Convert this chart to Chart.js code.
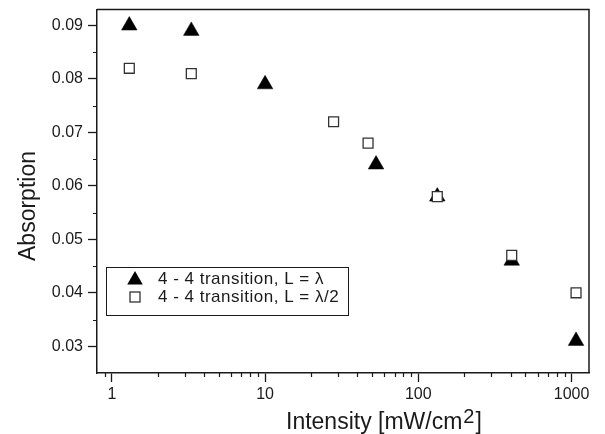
<!DOCTYPE html>
<html lang="en">
<head>
<meta charset="UTF-8" />
<title>Absorption vs Intensity</title>
<script src="https://cdn.jsdelivr.net/npm/chart.js"></script>
<style>
  body { margin: 0; background: #fff; }
  #chart { display: block; }
</style>
</head>
<body>
<canvas id="chart" width="605" height="434"></canvas>
<script>
// measured points, intensity in mW/cm^2
const intensityLambda = [1.3, 3.3, 10, 53, 133, 407, 1070];
const absorptionLambda = [0.090, 0.089, 0.079, 0.064, 0.058, 0.046, 0.031];
const intensityHalf = [1.3, 3.3, 28, 47, 133, 407, 1070];
const absorptionHalf = [0.082, 0.081, 0.072, 0.068, 0.058, 0.047, 0.040];

const xTickValues = [1, 10, 100, 1000];
const yTickValues = [0.03, 0.04, 0.05, 0.06, 0.07, 0.08, 0.09];
const seriesLabels = ['4 - 4 transition, L = λ', '4 - 4 transition, L = λ/2'];

const FONT = '"Liberation Sans", Arial, sans-serif';
const INK = '#1a1a1a';

function toPoints(xs, ys) {
  return xs.map((x, i) => ({ x: x, y: ys[i] }));
}

function triangle(ctx, x, y, r) {
  ctx.beginPath();
  for (let k = 0; k < 3; k++) {
    const a = k * 2 * Math.PI / 3;
    const px = x + Math.sin(a) * r;
    const py = y - Math.cos(a) * r;
    if (k === 0) ctx.moveTo(px, py); else ctx.lineTo(px, py);
  }
  ctx.closePath();
  ctx.fillStyle = '#000';
  ctx.fill();
}

// top/right frame, minor ticks, legend box and axis titles
const framePlugin = {
  id: 'frame',
  afterDraw(chart) {
    const ctx = chart.ctx;
    const a = chart.chartArea;
    const x = chart.scales.x;
    const y = chart.scales.y;
    ctx.save();

    ctx.strokeStyle = INK;
    ctx.lineWidth = 1.5;
    ctx.beginPath();
    ctx.moveTo(a.left, a.top);
    ctx.lineTo(a.right, a.top);
    ctx.lineTo(a.right, a.bottom);
    ctx.stroke();

    ctx.lineWidth = 1.2;
    ctx.beginPath();
    for (let e = -1; e <= 3; e++) {
      for (let m = 2; m <= 9; m++) {
        const v = m * Math.pow(10, e);
        if (v <= x.min || v >= x.max) continue;
        const px = Math.round(x.getPixelForValue(v)) + 0.5;
        ctx.moveTo(px, a.bottom);
        ctx.lineTo(px, a.bottom + 4);
      }
    }
    for (let k = 3; k <= 8; k++) {
      const py = Math.round(y.getPixelForValue((k + 0.5) / 100)) + 0.5;
      ctx.moveTo(a.left, py);
      ctx.lineTo(a.left - 4, py);
    }
    ctx.stroke();

    // legend
    ctx.lineWidth = 1;
    ctx.strokeStyle = INK;
    ctx.strokeRect(106.5, 267.5, 242, 48);
    triangle(ctx, 135, 280, 9);
    ctx.fillStyle = '#fff';
    ctx.strokeStyle = '#333';
    ctx.lineWidth = 1.3;
    ctx.fillRect(130, 292, 10, 10);
    ctx.strokeRect(130, 292, 10, 10);

    ctx.fillStyle = INK;
    ctx.font = '17px ' + FONT;
    ctx.textAlign = 'left';
    ctx.textBaseline = 'middle';
    ctx.letterSpacing = '0.5px';
    ctx.fillText(seriesLabels[0], 158, 279);
    ctx.fillText(seriesLabels[1], 158, 297);
    ctx.letterSpacing = '0px';

    // y title
    ctx.save();
    ctx.font = '23px ' + FONT;
    ctx.textAlign = 'center';
    ctx.textBaseline = 'alphabetic';
    ctx.translate(34.5, 206);
    ctx.rotate(-Math.PI / 2);
    ctx.fillText('Absorption', 0, 0);
    ctx.restore();

    // x title with superscript
    ctx.textAlign = 'left';
    ctx.textBaseline = 'alphabetic';
    let tx = 286;
    const base = 428.5;
    ctx.font = '23px ' + FONT;
    const head = 'Intensity [mW/cm';
    ctx.fillText(head, tx, base);
    tx += ctx.measureText(head).width + 1;
    ctx.font = '20px ' + FONT;
    ctx.fillText('2', tx, base - 6);
    tx += ctx.measureText('2').width + 1;
    ctx.font = '23px ' + FONT;
    ctx.fillText(']', tx, base);

    ctx.restore();
  }
};

new Chart(document.getElementById('chart'), {
  type: 'scatter',
  data: {
    datasets: [
      {
        label: seriesLabels[0],
        data: toPoints(intensityLambda, absorptionLambda),
        pointStyle: 'triangle',
        pointRadius: 9,
        backgroundColor: '#000',
        borderColor: '#000',
        borderWidth: 0.5,
        order: 1
      },
      {
        label: seriesLabels[1],
        data: toPoints(intensityHalf, absorptionHalf),
        pointStyle: 'rect',
        pointRadius: 7,
        backgroundColor: '#fff',
        borderColor: '#333',
        borderWidth: 1.3,
        order: 0
      }
    ]
  },
  options: {
    responsive: false,
    animation: false,
    layout: { padding: { top: 9, right: 16, left: 0, bottom: 0 } },
    plugins: {
      legend: { display: false },
      tooltip: { enabled: false }
    },
    scales: {
      x: {
        type: 'logarithmic',
        position: 'bottom',
        min: 0.8,
        max: 1300,
        afterBuildTicks: s => { s.ticks = xTickValues.map(v => ({ value: v })); },
        afterFit: s => {
          s.height = 61;
          s.paddingLeft = 0;
          s.paddingRight = 0;
        },
        ticks: {
          callback: v => String(v),
          color: INK,
          font: { family: FONT, size: 16 },
          padding: 3,
          autoSkip: false,
          maxRotation: 0
        },
        grid: { drawOnChartArea: false, tickLength: 9, tickColor: INK, tickWidth: 1.3 },
        border: { color: INK, width: 1.5 }
      },
      y: {
        type: 'linear',
        min: 0.025,
        max: 0.093,
        afterBuildTicks: s => { s.ticks = yTickValues.map(v => ({ value: v })); },
        afterFit: s => {
          s.width = 97;
          s.paddingTop = 0;
          s.paddingBottom = 0;
        },
        ticks: {
          callback: v => v.toFixed(2),
          color: INK,
          font: { family: FONT, size: 16 },
          padding: 5
        },
        grid: { drawOnChartArea: false, tickLength: 9, tickColor: INK, tickWidth: 1.3 },
        border: { color: INK, width: 1.5 }
      }
    }
  },
  plugins: [framePlugin]
});
</script>
</body>
</html>
